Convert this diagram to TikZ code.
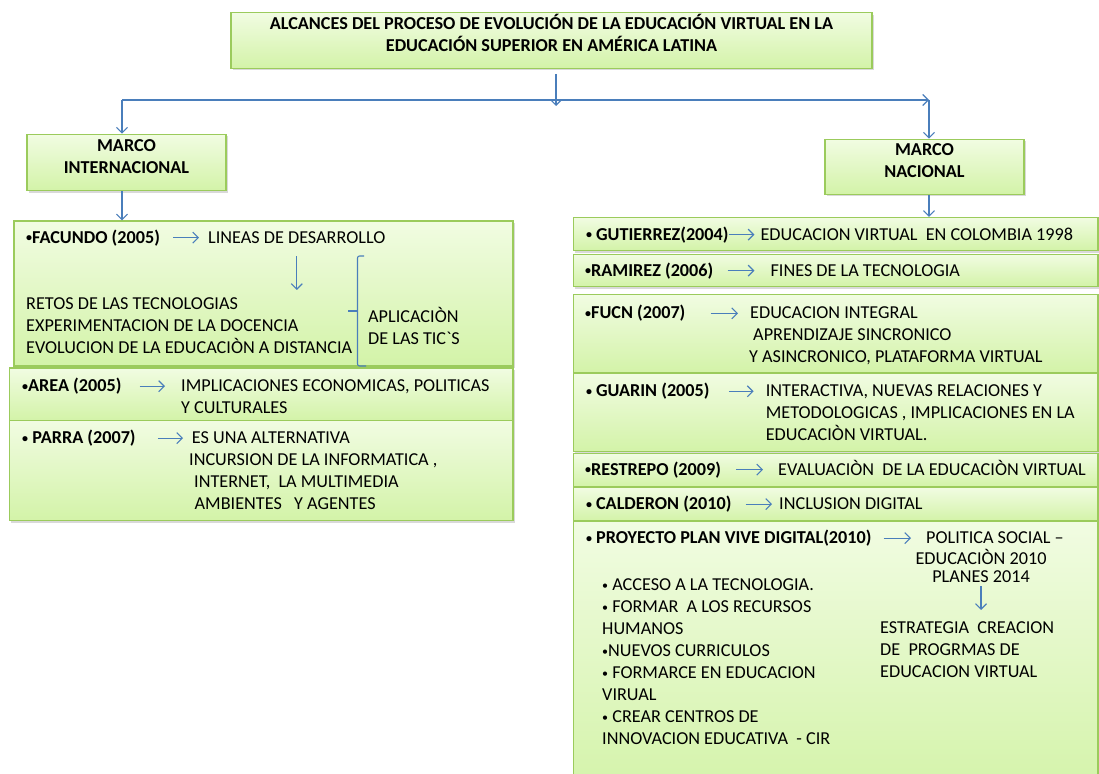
\documentclass[tikz,border=0pt]{standalone}
\usepackage{fontspec}
\setmainfont{Carlito}[Ligatures=TeXOff]
\usetikzlibrary{arrows.meta,fit,shadows}

\definecolor{bordeVerde}{HTML}{9BCB5C}
\definecolor{verdeClaro}{HTML}{F1FCE2}
\definecolor{verdeFondo}{HTML}{D3F3A8}
\definecolor{azulFlecha}{HTML}{4A7EBB}

\newcommand{\tamano}{\fontsize{18.2}{22}\selectfont}
\newcommand{\punto}{{\fontsize{12}{12}\selectfont\raisebox{1.5pt}{•}}}

\tikzset{
  caja/.style={draw=bordeVerde, line width=1.3pt, top color=verdeClaro,
    bottom color=verdeFondo, inner sep=0pt,
    drop shadow={shadow xshift=1.5pt, shadow yshift=-2pt, opacity=0.3}},
  flecha/.style={draw=azulFlecha, line width=1.1pt,
    -{Straight Barb[length=5.5pt,width=11pt]}},
  texto/.style={anchor=base west, inner sep=0pt, align=left, font=\tamano},
  autor/.style={texto, font=\tamano\bfseries},
  titular/.style={caja, align=center, font=\tamano\bfseries},
}

\begin{document}
\begin{tikzpicture}[x=1pt, y=-1pt]

    \useasboundingbox (0,0) rectangle (1099,773);
    \clip (0,0) rectangle (1099,773);

    % Titulo y marcos
    \node[titular, fit={(231,12.7) (872,68.3)}] (titulo)
        {ALCANCES DEL PROCESO DE EVOLUCIÓN DE LA EDUCACIÓN VIRTUAL EN LA\\
         EDUCACIÓN SUPERIOR EN AMÉRICA LATINA};
    \node[titular, fit={(27,134.3) (226,190.7)}] (marcoInt) {MARCO\\INTERNACIONAL};
    \node[titular, fit={(825,139.3) (1024,194.3)}] (marcoNac) {MARCO\\NACIONAL};

    % Ramas
    \coordinate (ramaInt) at (122,100);
    \coordinate (ramaNac) at (929,100);
    \coordinate (bajada) at (556,106);
    \draw[flecha, shorten <=5pt] (titulo.south -| bajada) -- (bajada);
    \draw[flecha] (ramaInt) -- (ramaNac);
    \draw[flecha] (ramaInt) -- (ramaInt |- marcoInt.north);
    \draw[flecha] (ramaNac) -- (ramaNac |- marcoNac.north);

    % Cajas del marco internacional
    \node[caja, fit={(14,221) (513,366)}] (cajaFacundo) {};
    \node[caja, fit={(9.5,368) (513,420.5)}] (cajaArea) {};
    \node[caja, fit={(9.5,420.5) (513,520.7)}] (cajaParra) {};
    \draw[flecha] (marcoInt.south -| ramaInt) -- (ramaInt |- cajaFacundo.north);

    % Cajas del marco nacional
    \node[caja, fit={(573.3,217.5) (1098,250.5)}] (cajaGutierrez) {};
    \node[caja, fit={(573.3,254.3) (1098,286.5)}] (cajaRamirez) {};
    \node[caja, fit={(573.3,294.5) (1098,373)}] (cajaFucn) {};
    \node[caja, fit={(573.3,373) (1098,451.5)}] (cajaGuarin) {};
    \node[caja, fit={(573.3,453.3) (1098,486.7)}] (cajaRestrepo) {};
    \node[caja, fit={(573.3,487.5) (1098,521)}] (cajaCalderon) {};
    \node[caja, fit={(573.3,521) (1098,800)}] (cajaProyecto) {};
    \draw[flecha] (marcoNac.south -| ramaNac) -- (ramaNac |- cajaGutierrez.north);

    % Facundo (en nodos de varias lineas, la base es la ultima linea)
    \node[autor] (facundo) at (26,243) {\punto FACUNDO (2005)};
    \node[texto] (lineas) at (208,243) {LINEAS DE DESARROLLO};
    \draw[flecha, shorten <=13pt, shorten >=9pt] (facundo.east) -- (facundo.east -| lineas.west);
    \node[texto] (retos) at (26,353)
        {RETOS DE LAS TECNOLOGIAS\\EXPERIMENTACION DE LA DOCENCIA\\EVOLUCION DE LA EDUCACIÒN A DISTANCIA};
    \draw[flecha, shorten <=13pt, shorten >=7pt] (lineas.south) -- (lineas.south |- retos.north);
    \draw[azulFlecha, line width=1.1pt, rounded corners=2pt]
        (364,256) -- (357.5,256) -- (357.5,366) -- (366,366);
    \draw[azulFlecha, line width=1.1pt] (348,311) -- (357.5,311);
    \node[texto] (aplicacion) at (368,344.6) {APLICACIÒN\\DE LAS TIC`S};

    % Area
    \node[autor] (area) at (22,391.6) {\punto AREA (2005)};
    \node[texto] (implicaciones) at (181,413.6) {IMPLICACIONES ECONOMICAS, POLITICAS\\Y CULTURALES};
    \draw[flecha, shorten <=18pt, shorten >=16pt] (area.east) -- (area.east -| implicaciones.west);

    % Parra
    \node[autor] (parra) at (22,443.5) {\punto\ PARRA (2007)};
    \node[texto] (alternativa) at (189,509.5)
        {\hspace{2.7pt}ES UNA ALTERNATIVA\\INCURSION DE LA INFORMATICA ,\\
         \hspace{5pt}INTERNET,\ \ LA MULTIMEDIA\\\hspace{5.5pt}AMBIENTES\ \ \ Y AGENTES};
    \draw[flecha, shorten <=22pt, shorten >=6pt] (parra.east) -- (parra.east -| alternativa.west);

    % Gutierrez y Ramirez
    \node[autor] (gutierrez) at (585.8,240) {\punto\ GUTIERREZ(2004)};
    \node[texto] (colombia) at (760.4,240) {EDUCACION VIRTUAL\ \ EN COLOMBIA 1998};
    \draw[flecha, shorten >=6pt] (gutierrez.east) -- (gutierrez.east -| colombia.west);
    \node[autor] (ramirez) at (585,276) {\punto RAMIREZ (2006)};
    \node[texto] (fines) at (770.4,276) {FINES DE LA TECNOLOGIA};
    \draw[flecha, shorten <=14pt, shorten >=16pt] (ramirez.east) -- (ramirez.east -| fines.west);

    % Fucn
    \node[autor] (fucn) at (585,318.7) {\punto FUCN (2007)};
    \node[texto] (integral) at (749,362.7)
        {\hspace{1pt}EDUCACION INTEGRAL\\\hspace{4pt}APRENDIZAJE SINCRONICO\\Y ASINCRONICO, PLATAFORMA VIRTUAL};
    \draw[flecha, shorten <=25pt, shorten >=11pt] (fucn.east) -- (fucn.east -| integral.west);

    % Guarin
    \node[autor] (guarin) at (585.8,396.7) {\punto\ GUARIN (2005)};
    \node[texto] (interactiva) at (765.6,440.7)
        {INTERACTIVA, NUEVAS RELACIONES Y\\METODOLOGICAS , IMPLICACIONES EN LA\\EDUCACIÒN VIRTUAL.};
    \draw[flecha, shorten <=19pt, shorten >=12pt] (guarin.east) -- (guarin.east -| interactiva.west);

    % Restrepo y Calderon
    \node[autor] (restrepo) at (585,475) {\punto RESTREPO (2009)};
    \node[texto] (evaluacion) at (778,475) {EVALUACIÒN\ \ DE LA EDUCACIÒN VIRTUAL};
    \draw[flecha, shorten <=15pt, shorten >=15pt] (restrepo.east) -- (restrepo.east -| evaluacion.west);
    \node[autor] (calderon) at (585.8,509.5) {\punto\ CALDERON (2010)};
    \node[texto] (inclusion) at (779,509.5) {INCLUSION DIGITAL};
    \draw[flecha, shorten <=14pt, shorten >=7pt] (calderon.east) -- (calderon.east -| inclusion.west);

    % Proyecto plan vive digital
    \node[autor] (proyecto) at (585.8,543.5) {\punto\ PROYECTO PLAN VIVE DIGITAL(2010)};
    \node[texto] (politica) at (926,543.5) {POLITICA SOCIAL –};
    \draw[flecha, shorten <=12pt, shorten >=15pt] (proyecto.east) -- (proyecto.east -| politica.west);
    \node[texto, anchor=base] (educacion) at (981,564.5) {EDUCACIÒN 2010};
    \node[texto, anchor=base] (planes) at (981,582) {PLANES 2014};
    \node[texto] (estrategia) at (880,677)
        {ESTRATEGIA\ \ CREACION\\DE\ \ PROGRMAS DE\\EDUCACION VIRTUAL};
    \draw[flecha, shorten <=4pt, shorten >=11pt] (planes.south) -- (planes.south |- estrategia.north);
    \node[texto] (acciones) at (602,744.7)
        {\punto\ ACCESO A LA TECNOLOGIA.\\\punto\ FORMAR\ \ A LOS RECURSOS\\HUMANOS\\\punto NUEVOS CURRICULOS\\
         \punto\ FORMARCE EN EDUCACION\\VIRUAL\\\punto\ CREAR CENTROS DE\\INNOVACION EDUCATIVA\ \ - CIR};

\end{tikzpicture}
\end{document}
